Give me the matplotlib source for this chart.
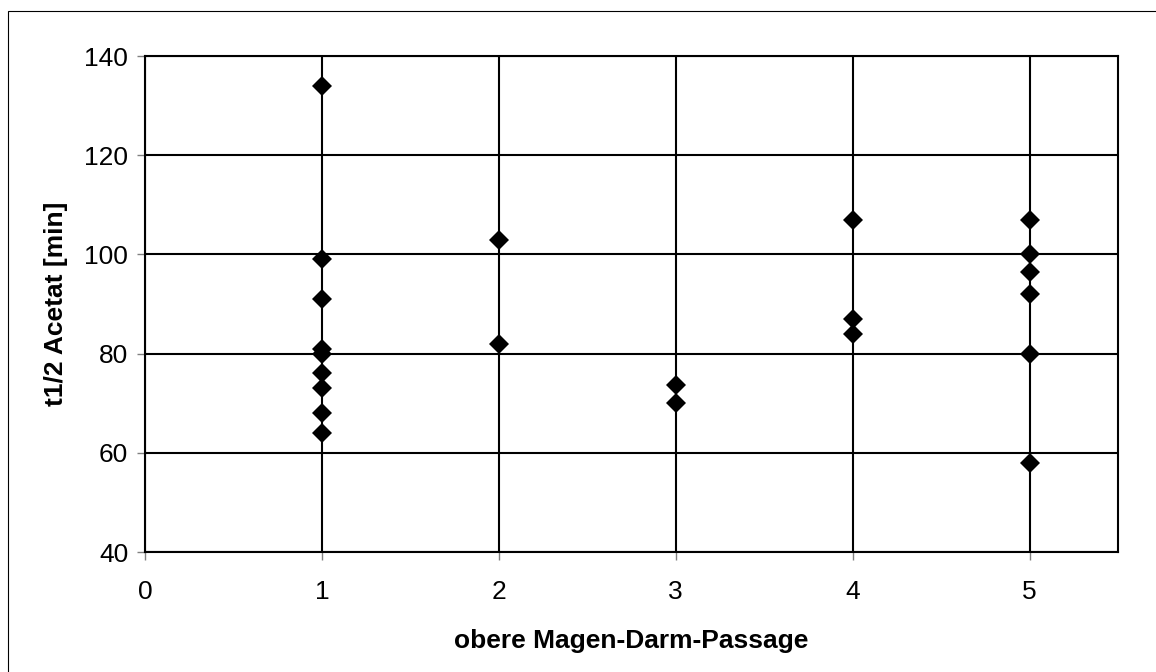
import matplotlib
matplotlib.use("Agg")
import matplotlib.pyplot as plt
from matplotlib.patches import Rectangle

plt.rcParams['font.family'] = ['Liberation Sans', 'DejaVu Sans']

# Data
x_values = [1, 1, 1, 1, 1, 1, 1, 1, 1,
            2, 2,
            3, 3,
            4, 4, 4,
            5, 5, 5, 5, 5, 5]
y_values = [134, 99, 91, 81, 80, 76, 73, 68, 64,
            103, 82,
            73.7, 70,
            107, 87, 84,
            107, 100, 96.5, 92, 80, 58]
x_ticks = [0, 1, 2, 3, 4, 5]
y_ticks = [40, 60, 80, 100, 120, 140]
x_label = "obere Magen-Darm-Passage"
y_label = "t1/2 Acetat [min]"

W, H = 1156, 672
fig = plt.figure(figsize=(W / 100, H / 100), dpi=100)
fig.patch.set_facecolor('white')

# outer frame
fig.patches.append(Rectangle((8 / W, -0.05), 1.2, 1 - 11 / H + 0.05,
                             transform=fig.transFigure, fill=False,
                             edgecolor='black', linewidth=0.8))

ax = fig.add_axes([145 / W, 1 - 552 / H, (1118 - 145) / W, (552 - 56) / H])
ax.set_xlim(0, 5.5)
ax.set_ylim(40, 140)
ax.set_xticks(x_ticks)
ax.set_yticks(y_ticks)
ax.grid(True, color='black', linewidth=1.5)
ax.set_axisbelow(True)
for s in ax.spines.values():
    s.set_color('black')
    s.set_linewidth(1.5)

ax.plot(x_values, y_values, linestyle='none', marker='D', markersize=10.5,
        color='black', markeredgewidth=0, zorder=3, clip_on=False)

ax.tick_params(axis='both', which='major', direction='out', length=6,
               width=1, color='#808080', labelsize=19, pad=6)
ax.tick_params(axis='x', pad=14)

ax.set_xlabel(x_label, fontsize=19, fontweight='bold', labelpad=18)
ax.set_ylabel(y_label, fontsize=19, fontweight='bold', labelpad=12)

fig.savefig('out.png', dpi=100, facecolor='white')
